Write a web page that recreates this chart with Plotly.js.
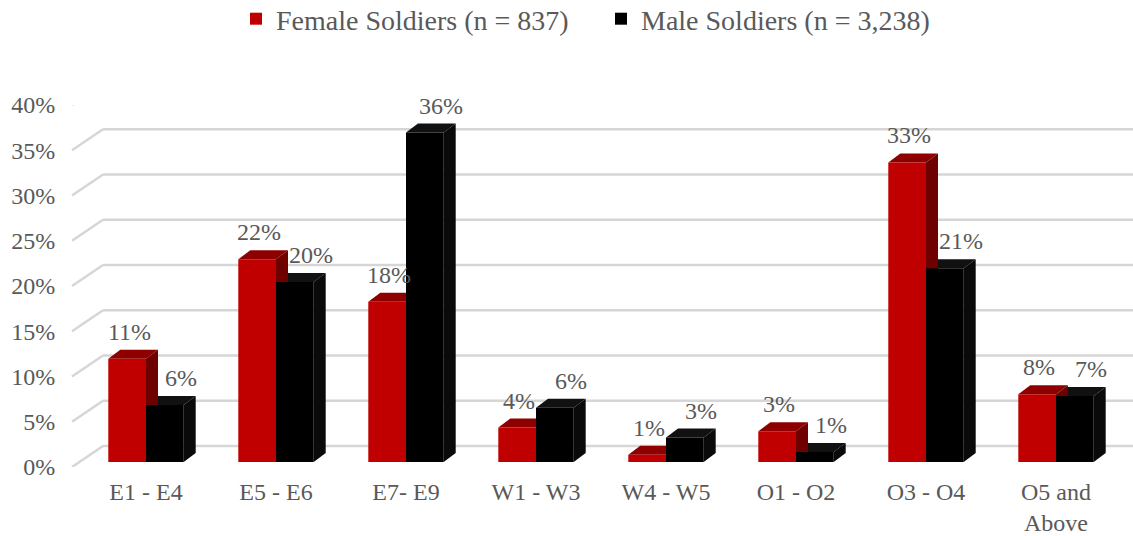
<!DOCTYPE html>
<html>
<head>
<meta charset="utf-8">
<script src="https://cdn.plot.ly/plotly-3.0.1.min.js"></script>
<style>html,body{margin:0;padding:0;background:#fff;}#chart{width:1133px;height:536px;}</style>
</head>
<body>
<div id="chart"></div>
<script>
// ---- data ----
const categories = ['E1 - E4', 'E5 - E6', 'E7- E9', 'W1 - W3', 'W4 - W5', 'O1 - O2', 'O3 - O4', 'O5 and<br>Above'];
const femaleName = 'Female Soldiers (n = 837)';
const maleName = 'Male Soldiers (n = 3,238)';
const femaleValues = [11.4, 22.4, 17.7, 3.8, 0.8, 3.4, 33.1, 7.5];
const maleValues = [6.3, 19.9, 36.4, 6.0, 2.7, 1.1, 21.4, 7.3];
const yTickVals = [0, 5, 10, 15, 20, 25, 30, 35, 40];
const yTickText = ['0%', '5%', '10%', '15%', '20%', '25%', '30%', '35%', '40%'];

// ---- geometry / style ----
const W = 1133, H = 536;
const M = {l: 0, r: 0, t: 80, b: 60, autoexpand: false};
const plotH = H - M.t - M.b;
const fx = px => px / W;
const fy = py => (H - M.b - py) / plotH;
const xLeft = 81, xRight = 1121;
const barTop40 = 100, barBase = 462;
const pxPerCat = (xRight - xLeft) / categories.length;
const pxPerUnit = (barBase - barTop40) / 40;
const bargap = 0.42;
const barWpx = (1 - bargap) / 2 * pxPerCat;
const dX = 12, dY = 9;
const FONT = 'Liberation Serif';
const GRAY = '#595959';
const GRID = '#d6d6d6';
const RED = '#c00000', RED_TOP = '#8e0000', RED_SIDE = '#6e0000';
const BLK = '#000000', BLK_TOP = '#111111', BLK_SIDE = '#0a0a0a';

const traces = [
  {type: 'bar', name: femaleName, x: categories, y: femaleValues, marker: {color: RED, line: {width: 0}}, hoverinfo: 'skip'},
  {type: 'bar', name: maleName, x: categories, y: maleValues, marker: {color: BLK, line: {width: 0}}, hoverinfo: 'skip'},
  {type: 'scatter', x: [categories[0]], y: [null], xaxis: 'x', yaxis: 'y3', showlegend: false, hoverinfo: 'skip', mode: 'markers'}
];

const shapes = [];
// back-wall gridlines and slanted side-wall lines
yTickVals.forEach(t => {
  shapes.push({type: 'line', xref: 'paper', x0: fx(103), x1: 1, yref: 'y', ysizemode: 'pixel', yanchor: t, y0: 16, y1: 16,
    line: {color: GRID, width: 2.5}, layer: 'below'});
  shapes.push({type: 'line', xref: 'paper', x0: fx(72), x1: fx(103), yref: 'y3', ysizemode: 'pixel', yanchor: t, y0: 0, y1: 21,
    line: {color: GRID, width: 2.5}, layer: 'below'});
});
// 3D faces (black first so red side faces lie over black tops)
function faces(values, offset, topC, sideC) {
  values.forEach((v, i) => {
    const h = v * pxPerUnit;
    const a = offset, b = offset + barWpx;
    const base = {type: 'path', xref: 'x', yref: 'y', xsizemode: 'pixel', ysizemode: 'pixel', xanchor: categories[i], yanchor: v, layer: 'between', line: {width: 0}};
    shapes.push(Object.assign({}, base, {path: `M${a},0L${b},0L${b + dX},${dY}L${a + dX},${dY}Z`, fillcolor: topC}));
    shapes.push(Object.assign({}, base, {path: `M${b},0L${b + dX},${dY}L${b + dX},${dY - h}L${b},${-h}Z`, fillcolor: sideC}));
  });
}
faces(maleValues, 0, BLK_TOP, BLK_SIDE);
faces(femaleValues, -barWpx, RED_TOP, RED_SIDE);

// data labels
const annotations = [];
femaleValues.forEach((v, i) => annotations.push({x: categories[i], y: v, xref: 'x', yref: 'y', text: Math.round(v) + '%', showarrow: false,
  xshift: -barWpx / 2 + 2, yshift: 12, yanchor: 'bottom', font: {family: FONT, size: 24, color: GRAY}}));
maleValues.forEach((v, i) => annotations.push({x: categories[i], y: v, xref: 'x', yref: 'y', text: Math.round(v) + '%', showarrow: false,
  xshift: barWpx / 2 + 16, yshift: 12, yanchor: 'bottom', font: {family: FONT, size: 24, color: GRAY}}));

const layout = {
  width: W, height: H, margin: M,
  paper_bgcolor: '#fff', plot_bgcolor: 'rgba(0,0,0,0)',
  barmode: 'group', bargap: bargap, bargroupgap: 0,
  font: {family: FONT, color: GRAY},
  showlegend: true,
  legend: {orientation: 'h', x: fx(236), xanchor: 'left', yref: 'paper', y: 1 + 86 / plotH, yanchor: 'top',
    font: {family: FONT, size: 28, color: GRAY}, itemwidth: 30, traceorder: 'normal', entrywidth: 320, entrywidthmode: 'pixels'},
  xaxis: {domain: [fx(xLeft), fx(xRight)], type: 'category', range: [-0.5, categories.length - 0.5], anchor: 'y',
    showgrid: false, zeroline: false, showline: false, ticks: 'outside', ticklen: 8, tickcolor: 'rgba(0,0,0,0)',
    tickfont: {family: FONT, size: 24, color: GRAY}, fixedrange: true, automargin: false},
  yaxis: {domain: [fy(barBase), fy(barTop40)], range: [0, 40], visible: false, showgrid: false, zeroline: false, fixedrange: true},
  yaxis3: {domain: [fy(467), fy(105)], range: [0, 40], anchor: 'free', position: fx(72), showgrid: false, zeroline: false, showline: false,
    tickvals: yTickVals, ticktext: yTickText, ticks: 'outside', ticklen: 12, tickcolor: 'rgba(0,0,0,0)',
    tickfont: {family: FONT, size: 24, color: GRAY}, fixedrange: true, automargin: false},
  shapes: shapes,
  annotations: annotations
};

Plotly.newPlot('chart', traces, layout, {displayModeBar: false, staticPlot: true});
</script>
</body>
</html>
